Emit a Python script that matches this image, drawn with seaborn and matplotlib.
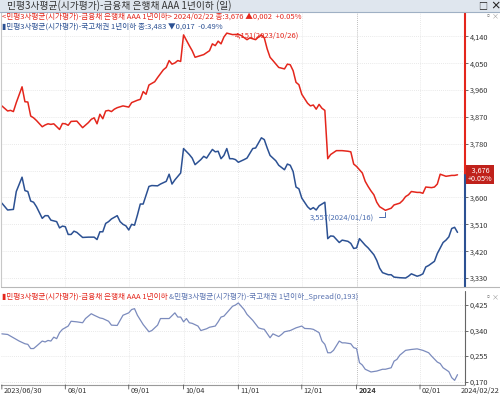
import numpy as np
import pandas as pd
import seaborn as sns
import matplotlib.pyplot as plt

# KRX trading calendar for the period shown
holidays = ['2023-08-15', '2023-09-28', '2023-09-29', '2023-10-02', '2023-10-03',
            '2023-10-09', '2023-12-25', '2023-12-29', '2024-01-01', '2024-02-09', '2024-02-12']
cal = pd.bdate_range('2023-06-30', '2024-02-22')
cal = cal[~cal.isin(pd.to_datetime(holidays))]

# x tick dates / labels
tick_dates = ['2023-06-30', '2023-08-01', '2023-09-01', '2023-10-04', '2023-11-01',
              '2023-12-01', '2024-01-02', '2024-02-01']
tick_labels = ['2023/06/30', '08/01', '09/01', '10/04', '11/01', '12/01', '2024', '02/01']
last_label = '2024/02/22'

# bank bond AAA 1y (trading day number since 2023/06/30, yield %)
red_day = [0, 2, 3, 4, 5, 7, 8, 9, 10, 11, 12, 14, 15, 16, 17, 18, 20, 21, 22, 23, 24, 26, 28,
           30, 31, 32, 33, 34, 35, 36, 37, 38, 39, 40, 42, 43, 44, 45, 47, 48, 49, 50, 51, 53,
           54, 56, 57, 58, 59, 60, 61, 62, 63, 65, 66, 67, 69, 70, 72, 73, 74, 75, 76, 77, 78,
           80, 82, 83, 85, 86, 88, 89, 90, 91, 92, 93, 94, 96, 98, 99, 100, 101, 102, 103, 104,
           106, 107, 108, 109, 110, 111, 112, 113, 114, 116, 118, 120, 121, 122, 123, 125, 126,
           127, 128, 129, 130, 131, 133, 135, 136, 138, 139, 140, 141, 142, 144, 145, 146, 147,
           149, 150, 151, 152, 154, 156, 157, 158]
red_val = [3.907, 3.890, 3.892, 3.888, 3.918, 3.971, 3.921, 3.920, 3.873, 3.867, 3.858, 3.837,
           3.843, 3.847, 3.845, 3.847, 3.828, 3.848, 3.847, 3.842, 3.855, 3.856, 3.834, 3.851,
           3.862, 3.867, 3.847, 3.879, 3.864, 3.890, 3.892, 3.888, 3.896, 3.901, 3.907, 3.905,
           3.903, 3.918, 3.926, 3.929, 3.955, 3.946, 3.977, 3.988, 4.002, 4.028, 4.036, 4.059,
           4.047, 4.051, 4.059, 4.056, 4.145, 4.109, 4.092, 4.070, 4.076, 4.079, 4.092, 4.115,
           4.109, 4.124, 4.115, 4.138, 4.151, 4.146, 4.147, 4.143, 4.129, 4.135, 4.129, 4.138,
           4.145, 4.135, 4.098, 4.070, 4.059, 4.036, 4.031, 4.047, 4.045, 4.025, 3.986, 3.978,
           3.946, 3.916, 3.907, 3.910, 3.896, 3.912, 3.899, 3.892, 3.730, 3.744, 3.757, 3.757,
           3.755, 3.753, 3.712, 3.704, 3.682, 3.654, 3.637, 3.622, 3.609, 3.584, 3.569, 3.557,
           3.564, 3.575, 3.581, 3.590, 3.603, 3.609, 3.620, 3.617, 3.617, 3.614, 3.635, 3.633,
           3.635, 3.645, 3.678, 3.671, 3.674, 3.674, 3.676]

# treasury 1y
blue_day = [0, 2, 4, 5, 7, 8, 9, 10, 11, 12, 14, 15, 16, 17, 19, 20, 21, 22, 23, 24, 25, 26, 28,
            30, 32, 33, 34, 35, 36, 37, 38, 40, 41, 42, 43, 44, 45, 46, 47, 48, 49, 51, 52, 54,
            55, 57, 58, 59, 60, 62, 63, 65, 66, 67, 69, 70, 71, 72, 73, 74, 75, 76, 77, 78, 79,
            80, 81, 82, 84, 85, 87, 88, 89, 90, 91, 92, 93, 95, 96, 98, 99, 100, 101, 102, 103,
            104, 106, 107, 108, 109, 110, 112, 113, 114, 115, 117, 118, 120, 121, 122, 123, 124,
            126, 127, 129, 130, 131, 132, 134, 135, 136, 138, 140, 141, 142, 144, 145, 146, 147,
            148, 150, 151, 153, 154, 155, 156, 157, 158]
blue_val = [3.581, 3.558, 3.560, 3.620, 3.668, 3.623, 3.620, 3.588, 3.584, 3.569, 3.530, 3.539,
            3.539, 3.524, 3.519, 3.498, 3.504, 3.502, 3.476, 3.476, 3.487, 3.483, 3.466, 3.467,
            3.467, 3.459, 3.485, 3.485, 3.513, 3.519, 3.528, 3.539, 3.519, 3.510, 3.505, 3.491,
            3.510, 3.507, 3.541, 3.578, 3.578, 3.637, 3.640, 3.639, 3.645, 3.654, 3.678, 3.645,
            3.659, 3.682, 3.764, 3.744, 3.732, 3.710, 3.727, 3.738, 3.732, 3.747, 3.761, 3.753,
            3.755, 3.730, 3.741, 3.764, 3.730, 3.730, 3.727, 3.718, 3.727, 3.732, 3.764, 3.766,
            3.783, 3.800, 3.794, 3.766, 3.741, 3.723, 3.708, 3.693, 3.712, 3.708, 3.687, 3.635,
            3.629, 3.598, 3.569, 3.560, 3.566, 3.558, 3.572, 3.584, 3.462, 3.471, 3.470, 3.449,
            3.457, 3.453, 3.446, 3.429, 3.431, 3.462, 3.440, 3.431, 3.408, 3.389, 3.363, 3.348,
            3.341, 3.341, 3.333, 3.331, 3.330, 3.336, 3.344, 3.336, 3.339, 3.344, 3.367, 3.372,
            3.386, 3.412, 3.449, 3.457, 3.468, 3.496, 3.500, 3.483]

# spread panel
spread_day = [0, 2, 4, 6, 8, 9, 10, 11, 12, 14, 15, 16, 17, 18, 19, 20, 21, 23, 24, 26, 28, 29,
              31, 32, 34, 35, 37, 38, 40, 41, 42, 44, 45, 46, 47, 49, 51, 52, 54, 55, 58, 60,
              61, 62, 63, 64, 65, 66, 68, 69, 71, 72, 74, 75, 76, 77, 79, 80, 81, 82, 84, 85,
              87, 89, 90, 91, 93, 94, 96, 97, 98, 100, 102, 104, 105, 107, 108, 110, 111, 112,
              113, 114, 115, 117, 118, 119, 121, 122, 123, 124, 125, 126, 128, 130, 132, 133,
              135, 136, 137, 138, 140, 142, 144, 146, 148, 149, 151, 152, 153, 155, 156, 157, 158]
spread_val = [0.329, 0.327, 0.316, 0.305, 0.296, 0.294, 0.280, 0.280, 0.288, 0.305, 0.302,
              0.307, 0.305, 0.318, 0.313, 0.333, 0.344, 0.355, 0.371, 0.369, 0.366, 0.380,
              0.396, 0.391, 0.382, 0.380, 0.371, 0.358, 0.357, 0.374, 0.391, 0.399, 0.410,
              0.413, 0.391, 0.360, 0.336, 0.340, 0.358, 0.380, 0.380, 0.399, 0.385, 0.385,
              0.369, 0.380, 0.366, 0.364, 0.355, 0.340, 0.346, 0.351, 0.355, 0.369, 0.385,
              0.388, 0.410, 0.421, 0.425, 0.432, 0.410, 0.394, 0.374, 0.349, 0.346, 0.344,
              0.316, 0.329, 0.320, 0.327, 0.336, 0.340, 0.349, 0.355, 0.347, 0.346, 0.344,
              0.333, 0.305, 0.294, 0.266, 0.266, 0.274, 0.305, 0.299, 0.299, 0.296, 0.283,
              0.280, 0.233, 0.225, 0.211, 0.202, 0.205, 0.211, 0.211, 0.216, 0.238, 0.244,
              0.258, 0.274, 0.277, 0.279, 0.274, 0.266, 0.255, 0.235, 0.230, 0.216, 0.203,
              0.183, 0.174, 0.193]

main_ticks = [3.330, 3.420, 3.510, 3.600, 3.690, 3.780, 3.870, 3.960, 4.050, 4.140]
spread_ticks = [0.170, 0.255, 0.340, 0.425]

RED = '#e4261c'
BLUE = '#2c5193'
SPREAD = '#7b8bbd'
GRID = '#e2e2e2'
TXT = '#333333'
FS = 5.5


def fmt(v):
    return f'{v:.3f}'.replace('.', ',')


sns.set_style('white')
plt.rcParams['font.family'] = ['Noto Sans CJK KR', 'DejaVu Sans']
plt.rcParams['font.size'] = FS

fig = plt.figure(figsize=(5.0, 3.98), dpi=100)
ax = fig.add_axes([0.002, 0.279, 0.928, 0.691])
ax2 = fig.add_axes([0.002, 0.033, 0.928, 0.236])

tick_pos = [cal.get_loc(pd.Timestamp(d)) for d in tick_dates]

# lines
sns.lineplot(x=red_day, y=red_val, ax=ax, color=RED, linewidth=1.1)
sns.lineplot(x=blue_day, y=blue_val, ax=ax, color=BLUE, linewidth=1.1)
sns.lineplot(x=spread_day, y=spread_val, ax=ax2, color=SPREAD, linewidth=0.9)

ylo, yhi = 3.300, 4.222
for a in (ax, ax2):
    a.set_xlim(-0.3, 160.6)
    a.set_xticks(tick_pos[1:])
    a.grid(True, linestyle=(0, (1, 1.5)), color=GRID, linewidth=0.6)
    for s in a.spines.values():
        s.set_visible(False)
    a.yaxis.tick_right()
    a.tick_params(axis='y', direction='out', length=2, width=0.6, colors='#555555',
                  labelcolor=TXT, pad=1.5, labelsize=5.3)
    a.tick_params(axis='x', length=0, labelbottom=False)
    a.set_xlabel('')
    a.set_ylabel('')
    # darker gridline at the year boundary
    for g, p in zip(a.get_xgridlines(), tick_pos[1:]):
        if p == tick_pos[6]:
            g.set_color('#a8a8a8')

ax.set_ylim(ylo, yhi)
ax.set_yticks(main_ticks)
# the 3,690 label sits under the current-price box
ax.set_yticklabels(['' if abs(v - 3.690) < 1e-6 else fmt(v) for v in main_ticks])

ax2.set_ylim(0.159, 0.472)
ax2.set_yticks(spread_ticks)
ax2.set_yticklabels([fmt(v) for v in spread_ticks])

# right axis line: red above last price, blue below
split = (red_val[-1] - ylo) / (yhi - ylo)
ax.plot([1, 1], [split, 1], transform=ax.transAxes, color=RED, lw=1.5, clip_on=False)
ax.plot([1, 1], [0, split], transform=ax.transAxes, color=BLUE, lw=1.5, clip_on=False)
ax.plot([0, 0], [0, 1], transform=ax.transAxes, color='#c8c8c8', lw=0.8, clip_on=False)
ax2.plot([1, 1], [0, 1], transform=ax2.transAxes, color='#666666', lw=0.8, clip_on=False)
ax2.plot([0, 1], [0, 0], transform=ax2.transAxes, color='#9a9a9a', lw=0.8, clip_on=False)
ax2.plot([0, 1.08], [1.04, 1.04], transform=ax2.transAxes, color='#b8b8b8', lw=0.8,
         clip_on=False)

# x tick marks and labels under the spread panel
for p, lab in zip(tick_pos, tick_labels):
    ax2.annotate('', xy=(p, 0), xycoords=('data', 'axes fraction'),
                 xytext=(p, -0.045), textcoords=('data', 'axes fraction'),
                 arrowprops=dict(arrowstyle='-', color='#555555', lw=0.6,
                                 shrinkA=0, shrinkB=0), annotation_clip=False)
    ax2.annotate(lab, xy=(p, -0.065), xycoords=('data', 'axes fraction'),
                 xytext=(2, 0), textcoords='offset pixels', ha='left', va='center',
                 color=TXT, fontsize=5.3, fontweight='bold' if lab == '2024' else 'normal',
                 annotation_clip=False)
fig.text(0.998, 1 - 391 / 398, last_label, ha='right', va='center', color=TXT, fontsize=5.3)

# high / low labels
hi_i = int(np.argmax(red_val))
lo_i = int(np.argmin(red_val))
ax.annotate(f'{fmt(red_val[hi_i])}({cal[red_day[hi_i]]:%Y/%m/%d})',
            xy=(red_day[hi_i], red_val[hi_i]), xytext=(8, -2), textcoords='offset pixels',
            ha='left', va='center', color=RED, fontsize=FS)
ax.annotate(f'{fmt(red_val[lo_i])}({cal[red_day[lo_i]]:%Y/%m/%d})',
            xy=(red_day[lo_i], red_val[lo_i]), xytext=(-11, -7), textcoords='offset pixels',
            ha='right', va='center', color='#4a6db0', fontsize=FS,
            arrowprops=dict(arrowstyle='-', color='#4a6db0', lw=0.7, shrinkA=1, shrinkB=1,
                            connectionstyle='angle,angleA=0,angleB=90,rad=0'))

# current price box on the right axis
ax.annotate(f' {fmt(red_val[-1])} \n+0.05%', xy=(1, red_val[-1]),
            xycoords=('axes fraction', 'data'), xytext=(3, 0), textcoords='offset pixels',
            ha='left', va='center', color='white', fontsize=5.2, linespacing=0.95,
            multialignment='center',
            bbox=dict(boxstyle='square,pad=0.25', fc='#c0211b', ec='none'),
            annotation_clip=False, zorder=10)

# title bar
fig.add_artist(plt.Rectangle((0, 1 - 12 / 398), 1, 12 / 398, transform=fig.transFigure,
                             facecolor='#dfe6ee', edgecolor='none'))
fig.add_artist(plt.Line2D([0, 1], [1 - 12 / 398] * 2, transform=fig.transFigure,
                          color='#9fb0c4', lw=0.8))
fig.text(0.014, 1 - 6 / 398, '민평3사평균(시가평가)-금융채 은행채 AAA 1년이하 (일)',
         ha='left', va='center', color='#333333', fontsize=7.0)
fig.text(0.966, 1 - 6 / 398, '□', ha='center', va='center', color='#222222', fontsize=6.5)
fig.text(0.99, 1 - 6 / 398, '×', ha='center', va='center', color='#222222', fontsize=7.5,
         fontweight='bold')
for yy in (1 - 16 / 398, 1 - 297 / 398):
    fig.text(0.976, yy, '▫', ha='center', va='center', color='#777777', fontsize=5)
    fig.text(0.991, yy, '×', ha='center', va='center', color='#999999', fontsize=5)

# legends
chg_r = red_val[-1] - red_val[-2]
chg_b = blue_val[-1] - blue_val[-2]
fig.text(0.003, 1 - 17 / 398,
         f'<민평3사평균(시가평가)-금융채 은행채 AAA 1년이하> {cal[-1]:%Y/%m/%d} 종:{fmt(red_val[-1])}'
         f' ▲{fmt(abs(chg_r))}  +0.05%', ha='left', va='center', color=RED, fontsize=FS)
fig.text(0.003, 1 - 27 / 398,
         f'▮민평3사평균(시가평가)-국고채권 1년이하 종:{fmt(blue_val[-1])} ▼{fmt(abs(chg_b))}  -0.49%',
         ha='left', va='center', color=BLUE, fontsize=FS)
t1 = fig.text(0.003, 1 - 297 / 398, '▮민평3사평균(시가평가)-금융채 은행채 AAA 1년이하',
              ha='left', va='center', color=RED, fontsize=FS)
ax2.annotate(f'&민평3사평균(시가평가)-국고채권 1년이하_Spread({fmt(spread_val[-1])})',
             xy=(1, 0.5), xycoords=t1, xytext=(2, 0), textcoords='offset pixels',
             ha='left', va='center', color='#5a73b0', fontsize=FS, annotation_clip=False)

fig.savefig('out.png', dpi=100, facecolor='white')
